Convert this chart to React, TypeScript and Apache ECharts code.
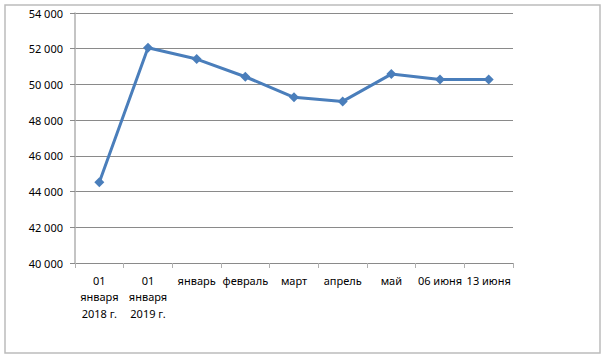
import React, { useEffect, useRef } from "react";
import * as echarts from "echarts";

const categories = [
  "01\nянваря\n2018 г.",
  "01\nянваря\n2019 г.",
  "январь",
  "февраль",
  "март",
  "апрель",
  "май",
  "06 июня",
  "13 июня",
];
const values = [44520, 52050, 51420, 50430, 49280, 49050, 50580, 50270, 50270];
const yMin = 40000;
const yMax = 54000;
const yInterval = 2000;

export default function App() {
  const ref = useRef<HTMLDivElement>(null);
  useEffect(() => {
    if (!ref.current) return;
    const chart = echarts.init(ref.current, null, { renderer: "svg" });
    const font = "'Noto Sans', 'DejaVu Sans', sans-serif";
    chart.setOption({
      animation: false,
      backgroundColor: "#ffffff",
      graphic: [
        {
          type: "rect",
          shape: { x: 5, y: 5, width: 595, height: 348 },
          style: { fill: "none", stroke: "#bcbcbc", lineWidth: 1.5 },
          silent: true,
        },
      ],
      grid: { left: 75, right: 94, top: 13, bottom: 97 },
      xAxis: {
        type: "category",
        data: categories,
        boundaryGap: true,
        axisLine: { show: true, lineStyle: { color: "#8a8a8a", width: 1 } },
        axisTick: { show: true, length: 5, lineStyle: { color: "#b0b0b0" } },
        axisLabel: {
          interval: 0,
          color: "#000000",
          fontFamily: font,
          fontSize: 11,
          lineHeight: 16.5,
          margin: 9,
        },
        splitLine: { show: false },
      },
      yAxis: {
        type: "value",
        min: yMin,
        max: yMax,
        interval: yInterval,
        axisLine: { show: true, lineStyle: { color: "#b0b0b0", width: 1.5 } },
        axisTick: { show: true, length: 5, lineStyle: { color: "#8a8a8a" } },
        axisLabel: {
          color: "#000000",
          fontFamily: font,
          fontSize: 11,
          margin: 12,
          formatter: (v: number) =>
            String(v).replace(/\B(?=(\d{3})+(?!\d))/g, " "),
        },
        splitLine: { show: true, lineStyle: { color: "#8a8a8a", width: 1 } },
      },
      series: [
        {
          type: "line",
          data: values,
          symbol: "diamond",
          symbolSize: 10,
          lineStyle: { color: "#4a7ebb", width: 3 },
          itemStyle: { color: "#4a7ebb" },
        },
      ],
    });
    return () => chart.dispose();
  }, []);
  return (
    <div
      ref={ref}
      style={{ position: "fixed", left: 0, top: 0, width: 607, height: 360 }}
    />
  );
}
